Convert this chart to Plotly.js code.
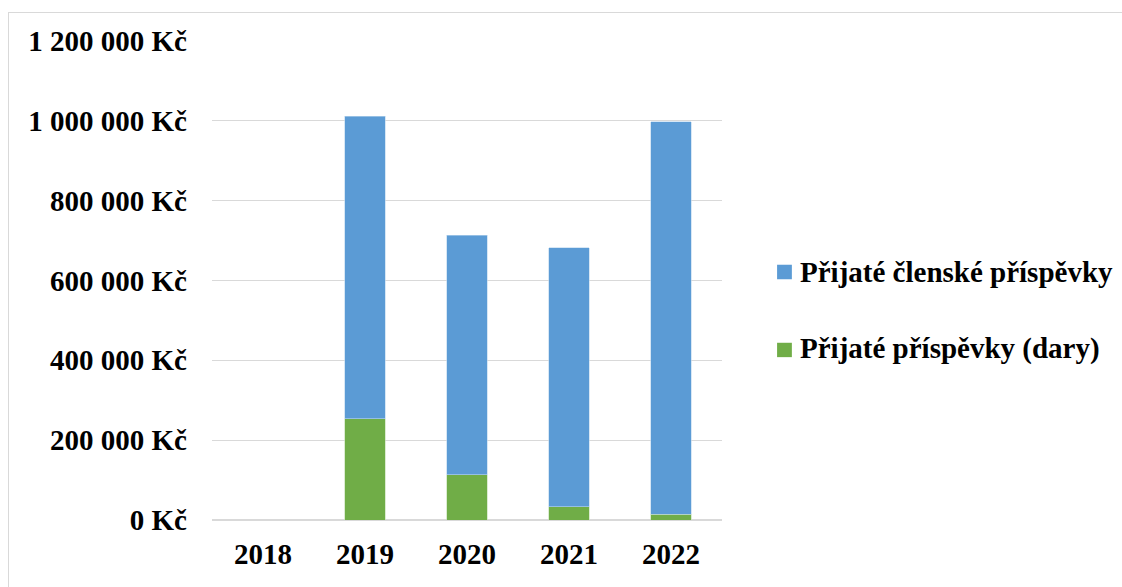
<!DOCTYPE html>
<html>
<head>
<meta charset="utf-8">
<script src="https://cdn.plot.ly/plotly-3.0.1.min.js"></script>
<style>
  html, body { margin: 0; padding: 0; background: #fff; }
  #frame { position: absolute; left: 8px; top: 12px; width: 1200px; height: 700px;
           border-top: 1.5px solid #d9d9d9; border-left: 1.5px solid #d9d9d9; }
  #chart { position: absolute; left: 0; top: 0; width: 1122px; height: 587px; }
</style>
</head>
<body>
<div id="frame"></div>
<div id="chart"></div>
<script>
const years = ['2018', '2019', '2020', '2021', '2022'];
const dary = [0, 254000, 114000, 33000, 15000];
const clenske = [0, 758000, 600000, 649000, 983000];
const yTickVals = [0, 200000, 400000, 600000, 800000, 1000000, 1200000];
const yTickText = ['0 Kč', '200 000 Kč', '400 000 Kč', '600 000 Kč', '800 000 Kč', '1 000 000 Kč', '1 200 000 Kč'];
const seriesNames = ['Přijaté příspěvky (dary)', 'Přijaté členské příspěvky'];
const seriesColors = ['#70AD47', '#5B9BD5'];

const SERIF = 'Liberation Serif';
const boldFont = { family: SERIF, size: 29, color: '#000', weight: 'bold' };

const traces = [
  { type: 'bar', x: years, y: dary, name: seriesNames[0],
    marker: { color: seriesColors[0], line: { color: '#c5e0b4', width: 0.6 } }, hoverinfo: 'skip' },
  { type: 'bar', x: years, y: clenske, name: seriesNames[1],
    marker: { color: seriesColors[1], line: { color: '#bdd7ee', width: 0.6 } }, hoverinfo: 'skip' }
];

// Legend drawn manually (blue item on top, green below)
const legendItems = [
  { idx: 1, yc: 0.518, y0: 0.5026, y1: 0.5329 },
  { idx: 0, yc: 0.357, y0: 0.340, y1: 0.370 }
];
const annotations = legendItems.map(it => ({
  xref: 'paper', yref: 'paper', x: 1.149, y: it.yc, xanchor: 'left', yanchor: 'middle',
  text: '<b>' + seriesNames[it.idx] + '</b>', showarrow: false, font: boldFont
}));
const shapes = legendItems.map(it => ({
  type: 'rect', xref: 'paper', yref: 'paper', x0: 1.108, x1: 1.137, y0: it.y0, y1: it.y1,
  fillcolor: seriesColors[it.idx], line: { width: 0 }
}));

const layout = {
  width: 1122, height: 587,
  margin: { l: 212, r: 400, t: 41, b: 66.5 },
  paper_bgcolor: 'rgba(0,0,0,0)', plot_bgcolor: 'rgba(0,0,0,0)',
  barmode: 'stack', bargap: 0.6,
  font: { family: SERIF, size: 29, color: '#000' },
  showlegend: false,
  annotations: annotations,
  shapes: shapes,
  xaxis: {
    type: 'category', showgrid: false, zeroline: false, showline: false,
    ticks: '', ticklabelstandoff: 14, automargin: false,
    tickfont: boldFont
  },
  yaxis: {
    range: [0, 1200000], tickvals: yTickVals, ticktext: yTickText,
    showgrid: true, gridcolor: '#d9d9d9', gridwidth: 1.3,
    zeroline: true, zerolinecolor: '#d9d9d9', zerolinewidth: 1.5,
    showline: false, ticks: '', ticklabelstandoff: 24, automargin: false,
    tickfont: boldFont
  }
};

Plotly.newPlot('chart', traces, layout, { staticPlot: true, displayModeBar: false });
</script>
</body>
</html>
